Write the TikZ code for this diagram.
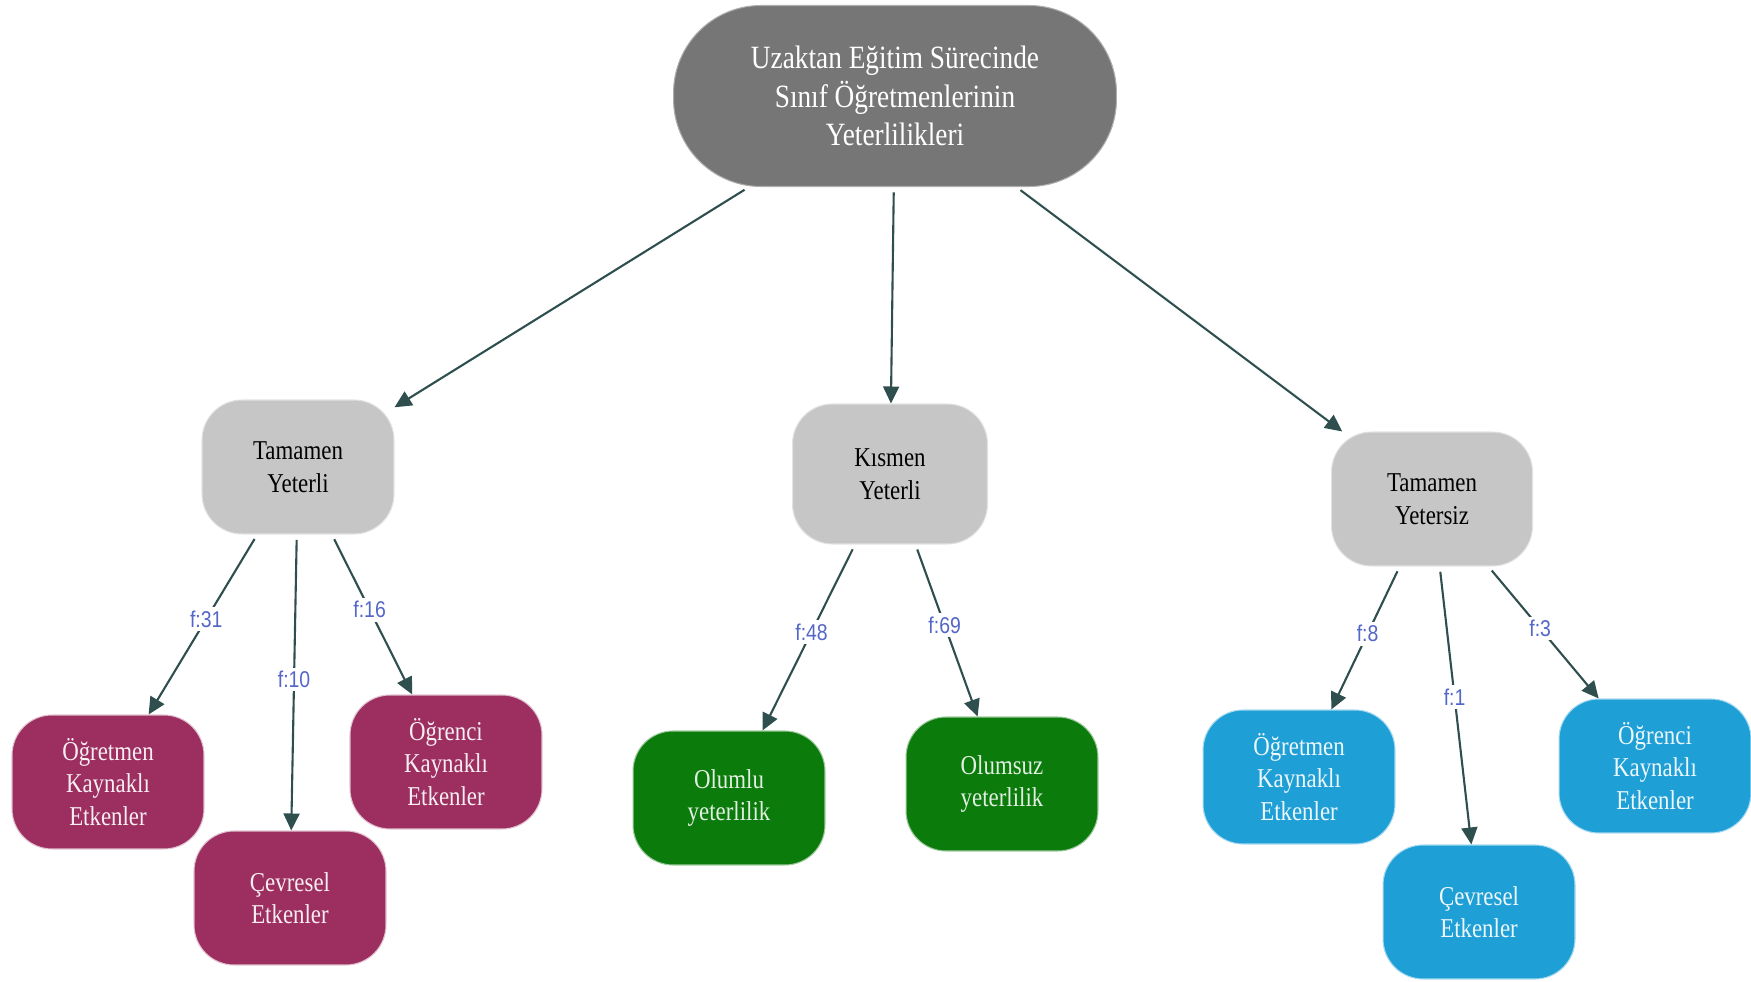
\documentclass[tikz,border=0pt]{standalone}
\usepackage{fontspec}
\newfontfamily\nodefont{Liberation Serif}[FakeStretch=0.84]
\newfontfamily\labfont{Liberation Sans}[FakeStretch=0.85]
\usetikzlibrary{arrows.meta}
\definecolor{rootc}{HTML}{767676}
\definecolor{grayc}{HTML}{C6C6C6}
\definecolor{purc}{HTML}{9C2F60}
\definecolor{grnc}{HTML}{0B7B0B}
\definecolor{bluc}{HTML}{1E9FD6}
\definecolor{arrowc}{HTML}{2F4F4F}
\definecolor{labc}{HTML}{5466C8}
\begin{document}
\begin{tikzpicture}[x=0.02cm,y=-0.02cm,
  basebox/.style={rounded corners=0.8cm, minimum width=3.84cm, minimum height=2.68cm,
    align=center, inner sep=2pt, line width=0.6pt,
    font=\nodefont\fontsize{15.5}{18.5}\selectfont},
  rootbox/.style={rounded corners=1.75cm, minimum width=8.86cm, minimum height=3.62cm,
    align=center, fill=rootc, draw=rootc!60!white, line width=0.6pt, text=white,
    font=\nodefont\fontsize{18.5}{22}\selectfont},
  graybox/.style={basebox, fill=grayc, draw=grayc!50!white, text=black},
  purbox/.style={basebox, fill=purc, draw=purc!30!white, text=purc!8!white},
  grnbox/.style={basebox, fill=grnc, draw=grnc!40!white, text=grnc!12!white},
  blubox/.style={basebox, fill=bluc, draw=bluc!40!white, text=bluc!8!white},
  arr/.style={draw=arrowc, line width=1.2pt, -{Triangle[length=0.34cm,width=0.32cm]}, shorten <=3pt},
  lab/.style={fill=white, text=labc, font=\labfont\fontsize{13}{15}\selectfont, inner sep=2pt, pos=0.47}
]
\useasboundingbox (0,0) rectangle (1751,982);

\node[rootbox] (root) at (895,96) {Uzaktan Eğitim Sürecinde\\Sınıf Öğretmenlerinin\\Yeterlilikleri};

\node[graybox] (ty) at (298,467) {Tamamen\\Yeterli};
\node[graybox, minimum width=3.9cm, minimum height=2.8cm] (ky) at (890,474) {Kısmen\\Yeterli};
\node[graybox, minimum width=4.02cm] (tys) at (1432,499) {Tamamen\\Yetersiz};

\node[purbox] (p1) at (108,782) {Öğretmen\\Kaynaklı\\Etkenler};
\node[purbox] (p2) at (290,898) {Çevresel\\Etkenler};
\node[purbox] (p3) at (446,762) {Öğrenci\\Kaynaklı\\Etkenler};

\node[grnbox] (g1) at (729,798) {Olumlu\\yeterlilik};
\node[grnbox] (g2) at (1002,784) {Olumsuz\\yeterlilik};

\node[blubox] (b1) at (1299,777) {Öğretmen\\Kaynaklı\\Etkenler};
\node[blubox] (b2) at (1479,912) {Çevresel\\Etkenler};
\node[blubox] (b3) at (1655,766) {Öğrenci\\Kaynaklı\\Etkenler};

\draw[arr] (root) -- (ty);
\draw[arr] (root) -- (ky);
\draw[arr] (root) -- (tys);

\draw[arr] (ty) -- node[lab]{f:31} (p1);
\draw[arr] (ty) -- node[lab, pos=0.49]{f:10} (p2);
\draw[arr] (ty) -- node[lab]{f:16} (p3);

\draw[arr] (ky) -- node[lab]{f:48} (g1);
\draw[arr] (ky) -- node[lab]{f:69} (g2);

\draw[arr] (tys) -- node[lab]{f:8} (b1);
\draw[arr] (tys) -- node[lab]{f:1} (b2);
\draw[arr] (tys) -- node[lab]{f:3} (b3);
\end{tikzpicture}
\end{document}
